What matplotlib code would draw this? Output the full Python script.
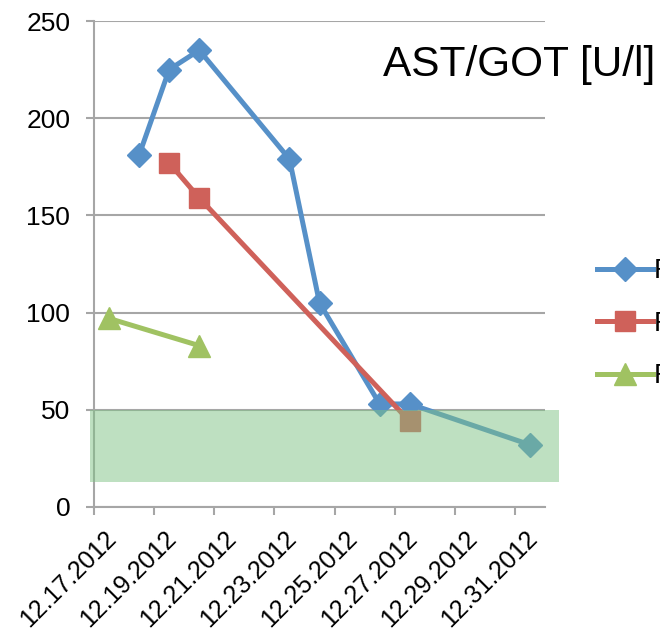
import matplotlib
matplotlib.use("Agg")
import matplotlib.dates as mdates
import matplotlib.pyplot as plt
import matplotlib.transforms as mtransforms
import pandas as pd
from matplotlib.patches import Rectangle

plt.rcParams["font.family"] = ["Liberation Sans", "DejaVu Sans"]

# AST/GOT readings per patient (measured around noon)
p1_dates = ["2012-12-18 12:00", "2012-12-19 12:00", "2012-12-20 12:00", "2012-12-23 12:00",
            "2012-12-24 12:00", "2012-12-26 12:00", "2012-12-27 12:00", "2012-12-31 12:00"]
p1_values = [181, 225, 235, 179, 105, 53, 53, 32]

p2_dates = ["2012-12-19 12:00", "2012-12-20 12:00", "2012-12-27 12:00"]
p2_values = [177, 159, 44]

p3_dates = ["2012-12-17 12:00", "2012-12-20 12:00"]
p3_values = [97, 83]

series_labels = ["Patient 1", "Patient 2", "Patient 3"]
normal_range = (13, 50)
tick_dates = pd.date_range("2012-12-17", "2012-12-31", freq="2D")

BLUE = "#5690C8"
RED = "#CF615A"
GREEN = "#A0C262"
GRID = "#A6A6A6"

fig = plt.figure(figsize=(6.6, 6.35), dpi=100)
ax = fig.add_axes([0.1424, 0.2016, 0.6834, 0.7653])

ax.plot(pd.to_datetime(p1_dates), p1_values, color=BLUE, lw=3.6, marker="D", ms=12.5,
        label=series_labels[0], zorder=3)
ax.plot(pd.to_datetime(p2_dates), p2_values, color=RED, lw=3.6, marker="s", ms=15,
        label=series_labels[1], zorder=3)
ax.plot(pd.to_datetime(p3_dates), p3_values, color=GREEN, lw=3.6, marker="^", ms=16,
        label=series_labels[2], zorder=3)

# reference range band, drawn over the lines like the original
band_tf = mtransforms.blended_transform_factory(ax.transAxes, ax.transData)
ax.add_patch(Rectangle((-0.009, normal_range[0]), 1.04, normal_range[1] - normal_range[0],
                       transform=band_tf, facecolor="#7FC285", alpha=0.5, lw=0,
                       clip_on=False, zorder=4))

ax.set_ylim(0, 250)
ax.set_yticks([0, 50, 100, 150, 200, 250])
ax.set_xlim(pd.Timestamp("2012-12-17"), pd.Timestamp("2013-01-01"))
ax.set_xticks(tick_dates)
ax.xaxis.set_major_formatter(mdates.DateFormatter("%m.%d.%Y"))

ax.grid(axis="y", color=GRID, lw=1.5)
ax.set_axisbelow(True)
for side in ["top", "right"]:
    ax.spines[side].set_visible(False)
for side in ["left", "bottom"]:
    ax.spines[side].set_color(GRID)
    ax.spines[side].set_linewidth(1.5)
ax.tick_params(axis="both", colors=GRID, width=1.5, length=6, labelcolor="black")
ax.tick_params(axis="y", pad=11, labelsize=19)
ax.tick_params(axis="x", labelsize=18)

offset = mtransforms.ScaledTranslation(0.1, -0.06, fig.dpi_scale_trans)
for lbl in ax.get_xticklabels():
    lbl.set_rotation(45)
    lbl.set_ha("right")
    lbl.set_va("top")
    lbl.set_rotation_mode("anchor")
    lbl.set_transform(lbl.get_transform() + offset)

fig.text(0.58, 0.897, "AST/GOT [U/l]", fontsize=30.5, va="center", ha="left")

ax.legend(loc="center left", bbox_to_anchor=(0.888, 0.49), bbox_transform=fig.transFigure,
          frameon=False, fontsize=20, handlelength=2.0, labelspacing=0.95, handletextpad=0.05,
          borderaxespad=0)

fig.savefig("out.png", dpi=100)
